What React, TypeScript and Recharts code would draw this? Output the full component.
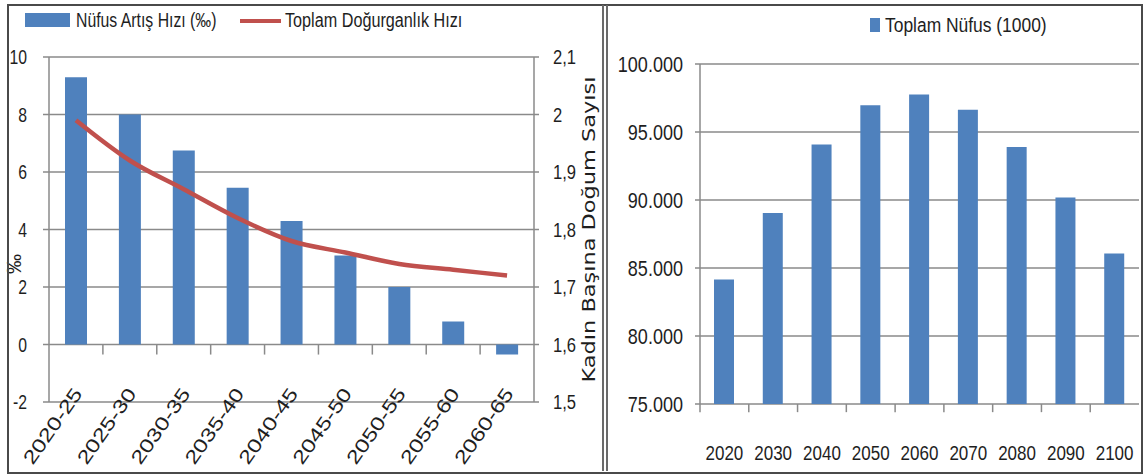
import { ComposedChart, BarChart, Bar, Line, XAxis, YAxis, CartesianGrid, Legend, ReferenceLine } from 'recharts';

// left panel: growth rate and fertility by period
const periods = ['2020-25', '2025-30', '2030-35', '2035-40', '2040-45', '2045-50', '2050-55', '2055-60', '2060-65'];
const growthRate = [9.3, 8.0, 6.75, 5.45, 4.3, 3.1, 2.0, 0.8, -0.35];
const fertility = [1.99, 1.92, 1.87, 1.82, 1.78, 1.76, 1.74, 1.73, 1.72];
const growthTicks = [-2, 0, 2, 4, 6, 8, 10];
const fertilityTicks = [1.5, 1.6, 1.7, 1.8, 1.9, 2, 2.1];

// right panel: total population (thousands)
const years = ['2020', '2030', '2040', '2050', '2060', '2070', '2080', '2090', '2100'];
const population = [84150, 89050, 94080, 96970, 97750, 96630, 93890, 90180, 86070];
const populationTicks = [75000, 80000, 85000, 90000, 95000, 100000];

const leftData = periods.map((p, i) => ({ period: p, growth: growthRate[i], tfr: fertility[i] }));
const rightData = years.map((y, i) => ({ year: y, pop: population[i] }));

const BLUE = '#4F81BD';
const RED = '#C0504D';
const GRID = '#8a8a8a';
const TEXT = '#1e1e1e';
const FONT = "'Liberation Sans', Arial, sans-serif";

const dotThousands = (v: number) => String(v).replace(/\B(?=(\d{3})+(?!\d))/g, '.');
const comma = (v: number) => String(v).replace('.', ',');

// narrow-looking text: regular face squeezed horizontally
const NarrowTick = ({ x, y, payload, textAnchor, fs = 20, sq = 0.8, fmt, dy = 0 }: any) => (
  <text
    transform={`translate(${x} ${y + dy}) scale(${sq} 1)`}
    textAnchor={textAnchor}
    dominantBaseline="central"
    fill={TEXT}
    fontSize={fs}
    fontFamily={FONT}
  >
    {fmt ? fmt(payload.value) : payload.value}
  </text>
);

const SlantTick = ({ x, y, payload }: any) => {
  const tx = x + 2;
  const ty = y - 12;
  return (
    <text
      x={tx}
      y={ty}
      transform={`rotate(-55 ${tx} ${ty})`}
      textAnchor="end"
      dominantBaseline="central"
      textLength={88}
      lengthAdjust="spacingAndGlyphs"
      fill={TEXT}
      fontSize={19}
      fontFamily={FONT}
    >
      {payload.value}
    </text>
  );
};

const LeftLegend = ({ payload }: any) => {
  const items = payload || [];
  return (
    <svg width={600} height={40} style={{ display: 'block' }}>
      {items.map((item: any, i: number) =>
        i === 0 ? (
          <g key={i}>
            <rect x={25} y={13} width={45} height={14} fill={item.color} />
            <text transform="translate(76 20) scale(0.79 1)" dominantBaseline="central" fill={TEXT} fontSize={20} fontFamily={FONT}>{item.value}</text>
          </g>
        ) : (
          <g key={i}>
            <line x1={240} x2={281} y1={21} y2={21} stroke={item.color} strokeWidth={4} />
            <text transform="translate(285 20) scale(0.81 1)" dominantBaseline="central" fill={TEXT} fontSize={20} fontFamily={FONT}>{item.value}</text>
          </g>
        )
      )}
    </svg>
  );
};

const RightLegend = ({ payload }: any) => {
  const items = payload || [];
  return (
    <svg width={536} height={44} style={{ display: 'block' }}>
      {items.map((item: any, i: number) => (
        <g key={i}>
          <rect x={263} y={18} width={10} height={14} fill={item.color} />
          <text transform="translate(278 25) scale(0.83 1)" dominantBaseline="central" fill={TEXT} fontSize={21} fontFamily={FONT}>{item.value}</text>
        </g>
      ))}
    </svg>
  );
};

export default function App() {
  return (
    <div style={{ position: 'absolute', left: 0, top: 0, width: 1143, height: 475, background: '#fff', overflow: 'hidden' }}>
      <div style={{ position: 'absolute', left: 0, top: 0 }}>
        <ComposedChart width={600} height={475} data={leftData} margin={{ top: 57, right: 0, bottom: 0, left: 0 }}>
          <CartesianGrid xAxisId="c" yAxisId="l" vertical={false} stroke={GRID} strokeWidth={1.5} />
          <XAxis
            xAxisId="c"
            dataKey="period"
            height={73}
            axisLine={false}
            tickLine={false}
            tickSize={0}
            tickMargin={0}
            interval={0}
            tick={<SlantTick />}
          />
          <YAxis
            yAxisId="l"
            domain={[-2, 10]}
            ticks={growthTicks}
            width={49}
            interval={0}
            axisLine={{ stroke: GRID, strokeWidth: 1.5 }}
            tickLine={{ stroke: GRID, strokeWidth: 1.5 }}
            tickSize={6}
            tickMargin={16}
            tick={<NarrowTick fs={21} sq={0.75} />}
            label={(p: any) => {
              const vb = p.viewBox || { x: 0, y: 57, height: 345 };
              const cx = vb.x + 14;
              const cy = vb.y + vb.height * 0.6;
              return (
                <text x={cx} y={cy} transform={`rotate(-90 ${cx} ${cy})`} textAnchor="middle" dominantBaseline="central" fill={TEXT} fontSize={20} fontFamily={FONT}>
                  ‰
                </text>
              );
            }}
          />
          <YAxis
            yAxisId="r"
            orientation="right"
            domain={[1.5, 2.1]}
            ticks={fertilityTicks}
            width={66}
            interval={0}
            axisLine={{ stroke: GRID, strokeWidth: 1.5 }}
            tickLine={{ stroke: GRID, strokeWidth: 1.5 }}
            tickSize={5}
            tickMargin={14}
            tick={<NarrowTick fs={21} sq={0.79} fmt={comma} />}
            label={(p: any) => {
              const vb = p.viewBox || { x: 534, y: 57, height: 345 };
              const cx = vb.x + 55;
              const cy = vb.y + vb.height / 2;
              return (
                <text
                  x={cx}
                  y={cy}
                  transform={`rotate(-90 ${cx} ${cy})`}
                  textAnchor="middle"
                  dominantBaseline="central"
                  textLength={306}
                  lengthAdjust="spacingAndGlyphs"
                  fill={TEXT}
                  fontSize={17}
                  fontFamily="'DejaVu Sans', Verdana, sans-serif"
                >
                  Kadın Başına Doğum Sayısı
                </text>
              );
            }}
          />
          <Bar xAxisId="c" yAxisId="l" dataKey="growth" name="Nüfus Artış Hızı (‰)" fill={BLUE} barSize={22} isAnimationActive={false} />
          <Line
            xAxisId="c"
            yAxisId="r"
            dataKey="tfr"
            name="Toplam Doğurganlık Hızı"
            type="monotone"
            stroke={RED}
            strokeWidth={4.5}
            dot={false}
            activeDot={false}
            isAnimationActive={false}
          />
          {/* category boundary ticks hanging from the zero line */}
          {periods.slice(1).map((p) => (
            <ReferenceLine
              key={p}
              xAxisId="c"
              yAxisId="l"
              position="start"
              segment={[{ x: p, y: 0 }, { x: p, y: -0.35 }]}
              stroke={GRID}
              strokeWidth={1.5}
            />
          ))}
          <Legend layout="horizontal" verticalAlign="middle" align="center" content={<LeftLegend />} wrapperStyle={{ left: 0, top: 0, width: 600, height: 40 }} />
        </ComposedChart>
      </div>

      <div style={{ position: 'absolute', left: 607, top: 0 }}>
        <BarChart width={536} height={475} data={rightData} margin={{ top: 64, right: 4, bottom: 0, left: 0 }}>
          <CartesianGrid xAxisId="c" vertical={false} stroke={GRID} strokeWidth={1.5} />
          <XAxis
            xAxisId="c"
            dataKey="year"
            height={71}
            axisLine={false}
            tickLine={false}
            tickSize={0}
            tickMargin={0}
            interval={0}
            tick={<NarrowTick fs={21} sq={0.81} dy={49} />}
          />
          <YAxis
            domain={[75000, 100000]}
            ticks={populationTicks}
            allowDataOverflow
            width={93}
            interval={0}
            axisLine={{ stroke: GRID, strokeWidth: 1.5 }}
            tickLine={{ stroke: GRID, strokeWidth: 1.5 }}
            tickSize={5}
            tickMargin={12}
            tick={<NarrowTick fs={22} sq={0.82} fmt={dotThousands} />}
          />
          <Bar xAxisId="c" dataKey="pop" name="Toplam Nüfus (1000)" fill={BLUE} barSize={20} isAnimationActive={false} />
          {years.map((yr) => (
            <ReferenceLine
              key={yr}
              xAxisId="c"
              position="start"
              segment={[{ x: yr, y: 75000 }, { x: yr, y: 74400 }]}
              ifOverflow="visible"
              stroke={GRID}
              strokeWidth={1.5}
            />
          ))}
          <Legend layout="horizontal" verticalAlign="middle" align="center" content={<RightLegend />} wrapperStyle={{ left: 0, top: 0, width: 536, height: 44 }} />
        </BarChart>
      </div>

      {/* frame and panel separator */}
      <div style={{ position: 'absolute', left: 7, top: 4, width: 1132, height: 466, border: '2px solid #4a4a4a', pointerEvents: 'none' }} />
      <div style={{ position: 'absolute', left: 602, top: 5, width: 2, height: 466, background: '#6a6a6a' }} />
      <div style={{ position: 'absolute', left: 606, top: 5, width: 2, height: 466, background: '#6a6a6a' }} />
    </div>
  );
}
